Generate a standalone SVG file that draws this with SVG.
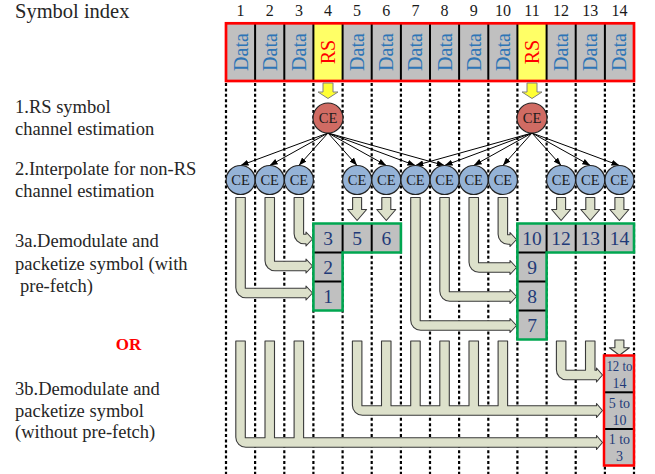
<svg xmlns="http://www.w3.org/2000/svg" xmlns:xlink="http://www.w3.org/1999/xlink" width="655" height="474" viewBox="0 0 655 474">
<style>
text{font-family:"Liberation Serif","Times New Roman",serif}
.lbl{font-size:18.5px;fill:#262626}
.idx{font-size:16px;fill:#1a1a1a;text-anchor:middle}
.data{font-size:20px;fill:#2E75B6;text-anchor:middle}
.rs{font-size:20px;fill:#ff0000;text-anchor:middle}
.cell{fill:#c0c0c0}
.rscell{fill:#ffff66}
.div{stroke:#000;stroke-width:2}
.grid{stroke:#000;stroke-width:2.2;stroke-dasharray:3 2.4}
.ceR{fill:#d06b63;stroke:#222;stroke-width:1.2}
.ceB{fill:#95b3d7;stroke:#222;stroke-width:1.2}
.cet{font-size:14.5px;fill:#1a1a1a;text-anchor:middle}
.pipe{fill:#dde1cb;stroke:#3a3a3a;stroke-width:1.1;stroke-linejoin:round}
.yel{fill:#ffff33;stroke:#808080;stroke-width:1}
.num{font-size:19.5px;fill:#1f3a78;text-anchor:middle}
.rng{font-size:14px;fill:#1f3a78;text-anchor:middle}
.green{fill:none;stroke:#00a650;stroke-width:2.6}
.conn{stroke:#000;stroke-width:1;fill:none;marker-end:url(#ah)}
</style>
<defs>
<marker id="ah" markerUnits="userSpaceOnUse" markerWidth="8" markerHeight="6" refX="8" refY="3" orient="auto">
<path d="M0,0 L8,3 L0,6 Z" fill="#000"/>
</marker>
<path id="dn" d="M-4.5,0 H4.5 V12 H9.5 L0,23 L-9.5,12 H-4.5 Z"/>
<path id="yd" d="M-5,0 H5 V9 H10 L0,15.5 L-10,9 H-5 Z"/>
</defs>

<!-- left labels -->
<text x="15" y="18" style="font-size:20.5px;fill:#262626">Symbol index</text>
<text class="lbl" x="15" y="113">1.RS symbol</text>
<text class="lbl" x="15" y="135">channel estimation</text>
<text class="lbl" x="15" y="175">2.Interpolate for non-RS</text>
<text class="lbl" x="15" y="197">channel estimation</text>
<text class="lbl" x="15" y="247">3a.Demodulate and</text>
<text class="lbl" x="15" y="270">packetize symbol (with</text>
<text class="lbl" x="20" y="292">pre-fetch)</text>
<text x="128.5" y="350" style="font-size:17px;font-weight:bold;fill:#ff0000;text-anchor:middle">OR</text>
<text class="lbl" x="15" y="395">3b.Demodulate and</text>
<text class="lbl" x="15" y="417">packetize symbol</text>
<text class="lbl" x="15" y="438">(without pre-fetch)</text>

<!-- symbol index numbers -->
<g id="indices">
<text class="idx" x="240.6" y="16">1</text>
<text class="idx" x="269.7" y="16">2</text>
<text class="idx" x="298.9" y="16">3</text>
<text class="idx" x="328" y="16">4</text>
<text class="idx" x="357.1" y="16">5</text>
<text class="idx" x="386.3" y="16">6</text>
<text class="idx" x="415.4" y="16">7</text>
<text class="idx" x="444.6" y="16">8</text>
<text class="idx" x="473.7" y="16">9</text>
<text class="idx" x="502.9" y="16">10</text>
<text class="idx" x="532" y="16">11</text>
<text class="idx" x="561.1" y="16">12</text>
<text class="idx" x="590.3" y="16">13</text>
<text class="idx" x="619.4" y="16">14</text>
</g>

<!-- dashed grid -->
<g id="grid">
<line class="grid" x1="226" y1="83" x2="226" y2="474"/>
<line class="grid" x1="255.1" y1="83" x2="255.1" y2="474"/>
<line class="grid" x1="284.3" y1="83" x2="284.3" y2="474"/>
<line class="grid" x1="313.4" y1="83" x2="313.4" y2="474"/>
<line class="grid" x1="342.6" y1="83" x2="342.6" y2="474"/>
<line class="grid" x1="371.7" y1="83" x2="371.7" y2="474"/>
<line class="grid" x1="400.9" y1="83" x2="400.9" y2="474"/>
<line class="grid" x1="430" y1="83" x2="430" y2="474"/>
<line class="grid" x1="459.1" y1="83" x2="459.1" y2="474"/>
<line class="grid" x1="488.3" y1="83" x2="488.3" y2="474"/>
<line class="grid" x1="517.4" y1="83" x2="517.4" y2="474"/>
<line class="grid" x1="546.6" y1="83" x2="546.6" y2="474"/>
<line class="grid" x1="575.7" y1="83" x2="575.7" y2="474"/>
<line class="grid" x1="604.9" y1="83" x2="604.9" y2="474"/>
<line class="grid" x1="634" y1="83" x2="634" y2="474"/>
</g>

<!-- symbol row -->
<g id="symbols">
<rect class="cell" x="226" y="23.3" width="408" height="57.7"/>
<rect class="rscell" x="313.4" y="23.3" width="29.2" height="57.7"/>
<rect class="rscell" x="517.4" y="23.3" width="29.2" height="57.7"/>
<g class="div">
<line x1="255.1" y1="23" x2="255.1" y2="81"/>
<line x1="284.3" y1="23" x2="284.3" y2="81"/>
<line x1="313.4" y1="23" x2="313.4" y2="81"/>
<line x1="342.6" y1="23" x2="342.6" y2="81"/>
<line x1="371.7" y1="23" x2="371.7" y2="81"/>
<line x1="400.9" y1="23" x2="400.9" y2="81"/>
<line x1="430" y1="23" x2="430" y2="81"/>
<line x1="459.1" y1="23" x2="459.1" y2="81"/>
<line x1="488.3" y1="23" x2="488.3" y2="81"/>
<line x1="517.4" y1="23" x2="517.4" y2="81"/>
<line x1="546.6" y1="23" x2="546.6" y2="81"/>
<line x1="575.7" y1="23" x2="575.7" y2="81"/>
<line x1="604.9" y1="23" x2="604.9" y2="81"/>
</g>
<rect x="226" y="23.3" width="408" height="57.7" fill="none" stroke="#ff0000" stroke-width="2.7"/>
<text class="data" transform="translate(247.6,52) rotate(-90)">Data</text>
<text class="data" transform="translate(276.7,52) rotate(-90)">Data</text>
<text class="data" transform="translate(305.9,52) rotate(-90)">Data</text>
<text class="rs" transform="translate(335,52) rotate(-90)">RS</text>
<text class="data" transform="translate(364.1,52) rotate(-90)">Data</text>
<text class="data" transform="translate(393.3,52) rotate(-90)">Data</text>
<text class="data" transform="translate(422.4,52) rotate(-90)">Data</text>
<text class="data" transform="translate(451.6,52) rotate(-90)">Data</text>
<text class="data" transform="translate(480.7,52) rotate(-90)">Data</text>
<text class="data" transform="translate(509.9,52) rotate(-90)">Data</text>
<text class="rs" transform="translate(539,52) rotate(-90)">RS</text>
<text class="data" transform="translate(568.1,52) rotate(-90)">Data</text>
<text class="data" transform="translate(597.3,52) rotate(-90)">Data</text>
<text class="data" transform="translate(626.4,52) rotate(-90)">Data</text>
</g>

<!-- yellow arrows -->
<use href="#yd" class="yel" x="328" y="83"/>
<use href="#yd" class="yel" x="532" y="83"/>

<!-- pipes 3a -->
<g id="pipes3a" class="pipe">
<path d="M235.8,197.5 H245.3 V288.2 H306 V286 L312.5,293 L306,300 V297.8 H245.8 A10,10 0 0 1 235.8,287.8 Z"/>
<path d="M265,197.5 H274.5 V261.2 H306 V259 L312.5,266 L306,273 V270.8 H275 A10,10 0 0 1 265,260.8 Z"/>
<path d="M294.1,197.5 H303.6 V234.2 H306 V232 L312.5,239 L306,246 V243.8 H304.1 A10,10 0 0 1 294.1,233.8 Z"/>
<path d="M498.1,197.5 H507.6 V234.8 H510 V232.5 L516.5,239.5 L510,246.5 V244.2 H508.1 A10,10 0 0 1 498.1,234.2 Z"/>
<path d="M469,197.5 H478.5 V262.8 H510 V260.5 L516.5,267.5 L510,274.5 V272.2 H479 A10,10 0 0 1 469,262.2 Z"/>
<path d="M439.8,197.5 H449.3 V291.8 H510 V289.5 L516.5,296.5 L510,303.5 V301.2 H449.8 A10,10 0 0 1 439.8,291.2 Z"/>
<path d="M410.7,197.5 H420.2 V320.8 H510 V318.5 L516.5,325.5 L510,332.5 V330.2 H420.7 A10,10 0 0 1 410.7,320.2 Z"/>
<use href="#dn" x="357.1" y="197.5"/>
<use href="#dn" x="386.3" y="197.5"/>
<use href="#dn" x="561.1" y="197.5"/>
<use href="#dn" x="590.3" y="197.5"/>
<use href="#dn" x="619.4" y="197.5"/>
</g>

<!-- pipes 3b -->
<g id="pipes3b" class="pipe">
<path d="M235.8,341 H245.3 V437.7 H265 V341 H274.5 V437.7 H294.1 V341 H303.6 V437.7 H596.5 V435.5 L602.5,442.5 L596.5,449.5 V447.3 H245.8 A10,10 0 0 1 235.8,437.3 Z"/>
<path d="M352.4,341 H361.9 V405.7 H381.5 V341 H391 V405.7 H410.7 V341 H420.2 V405.7 H439.8 V341 H449.3 V405.7 H469 V341 H478.5 V405.7 H498.1 V341 H507.6 V405.7 H596.5 V403.5 L602.5,410.5 L596.5,417.5 V415.3 H362.4 A10,10 0 0 1 352.4,405.3 Z"/>
<path d="M556.4,341 H565.9 V370.2 H585.5 V341 H595 V370.2 H596.5 V368 L602.5,375 L596.5,382 V379.8 H566.4 A10,10 0 0 1 556.4,369.8 Z"/>
<path d="M614.9,340 H623.9 V347.8 H629.4 L619.4,355.3 L609.4,347.8 H614.9 Z"/>
</g>

<!-- table 3a left -->
<g id="tableA">
<rect class="cell" x="313.4" y="223.5" width="87.5" height="29"/>
<rect class="cell" x="313.4" y="252.5" width="29.2" height="58"/>
<g class="div">
<line x1="342.6" y1="223.5" x2="342.6" y2="252.5"/>
<line x1="371.7" y1="223.5" x2="371.7" y2="252.5"/>
<line x1="313.4" y1="252.5" x2="342.6" y2="252.5"/>
<line x1="313.4" y1="281.5" x2="342.6" y2="281.5"/>
</g>
<path class="green" d="M313.4,223.5 H400.9 V252.5 H342.6 V310.5 H313.4 Z"/>
<text class="num" x="328" y="244.5">3</text>
<text class="num" x="357.1" y="244.5">5</text>
<text class="num" x="386.3" y="244.5">6</text>
<text class="num" x="328" y="273.5">2</text>
<text class="num" x="328" y="302.5">1</text>
</g>

<!-- table 3a right -->
<g id="tableB">
<rect class="cell" x="517.4" y="223.5" width="116.6" height="29"/>
<rect class="cell" x="517.4" y="252.5" width="29.2" height="87"/>
<g class="div">
<line x1="546.6" y1="223.5" x2="546.6" y2="252.5"/>
<line x1="575.7" y1="223.5" x2="575.7" y2="252.5"/>
<line x1="604.9" y1="223.5" x2="604.9" y2="252.5"/>
<line x1="517.4" y1="252.5" x2="546.6" y2="252.5"/>
<line x1="517.4" y1="281.5" x2="546.6" y2="281.5"/>
<line x1="517.4" y1="310.5" x2="546.6" y2="310.5"/>
</g>
<path class="green" d="M517.4,223.5 H634 V252.5 H546.6 V339.5 H517.4 Z"/>
<text class="num" x="532" y="244.5">10</text>
<text class="num" x="561.1" y="244.5">12</text>
<text class="num" x="590.3" y="244.5">13</text>
<text class="num" x="619.4" y="244.5">14</text>
<text class="num" x="532" y="273.5">9</text>
<text class="num" x="532" y="302.5">8</text>
<text class="num" x="532" y="331.5">7</text>
</g>

<!-- table 3b -->
<g id="tableC">
<rect class="cell" x="604" y="355.5" width="30" height="110"/>
<g class="div">
<line x1="604" y1="392.3" x2="634" y2="392.3"/>
<line x1="604" y1="429" x2="634" y2="429"/>
</g>
<rect x="604" y="355.5" width="30" height="110" fill="none" stroke="#ff0000" stroke-width="2.5"/>
<text class="rng" x="619.4" y="371" textLength="26" lengthAdjust="spacingAndGlyphs">12 to</text>
<text class="rng" x="619.4" y="387.5">14</text>
<text class="rng" x="619.4" y="408">5 to</text>
<text class="rng" x="619.4" y="424.5">10</text>
<text class="rng" x="619.4" y="444">1 to</text>
<text class="rng" x="619.4" y="461">3</text>
</g>

<!-- connectors -->
<g id="connectors">
<line class="conn" x1="328" y1="133" x2="240.6" y2="165.5"/>
<line class="conn" x1="328" y1="133" x2="269.7" y2="165.5"/>
<line class="conn" x1="328" y1="133" x2="298.9" y2="165.5"/>
<line class="conn" x1="328" y1="133" x2="357.1" y2="165.5"/>
<line class="conn" x1="328" y1="133" x2="386.3" y2="165.5"/>
<line class="conn" x1="328" y1="133" x2="415.4" y2="165.5"/>
<line class="conn" x1="328" y1="133" x2="444.6" y2="165.5"/>
<line class="conn" x1="532" y1="133" x2="415.4" y2="165.5"/>
<line class="conn" x1="532" y1="133" x2="444.6" y2="165.5"/>
<line class="conn" x1="532" y1="133" x2="473.7" y2="165.5"/>
<line class="conn" x1="532" y1="133" x2="502.9" y2="165.5"/>
<line class="conn" x1="532" y1="133" x2="561.1" y2="165.5"/>
<line class="conn" x1="532" y1="133" x2="590.3" y2="165.5"/>
<line class="conn" x1="532" y1="133" x2="619.4" y2="165.5"/>
</g>

<!-- CE nodes -->
<g id="ce-rs4"><circle class="ceR" cx="328" cy="118" r="15"/><text class="cet" x="328" y="123">CE</text></g>
<g id="ce-rs11"><circle class="ceR" cx="532" cy="118" r="15"/><text class="cet" x="532" y="123">CE</text></g>
<g id="ce1"><circle class="ceB" cx="240.6" cy="180" r="14.5"/><text class="cet" x="240.6" y="185">CE</text></g>
<g id="ce2"><circle class="ceB" cx="269.7" cy="180" r="14.5"/><text class="cet" x="269.7" y="185">CE</text></g>
<g id="ce3"><circle class="ceB" cx="298.9" cy="180" r="14.5"/><text class="cet" x="298.9" y="185">CE</text></g>
<g id="ce5"><circle class="ceB" cx="357.1" cy="180" r="14.5"/><text class="cet" x="357.1" y="185">CE</text></g>
<g id="ce6"><circle class="ceB" cx="386.3" cy="180" r="14.5"/><text class="cet" x="386.3" y="185">CE</text></g>
<g id="ce7"><circle class="ceB" cx="415.4" cy="180" r="14.5"/><text class="cet" x="415.4" y="185">CE</text></g>
<g id="ce8"><circle class="ceB" cx="444.6" cy="180" r="14.5"/><text class="cet" x="444.6" y="185">CE</text></g>
<g id="ce9"><circle class="ceB" cx="473.7" cy="180" r="14.5"/><text class="cet" x="473.7" y="185">CE</text></g>
<g id="ce10"><circle class="ceB" cx="502.9" cy="180" r="14.5"/><text class="cet" x="502.9" y="185">CE</text></g>
<g id="ce12"><circle class="ceB" cx="561.1" cy="180" r="14.5"/><text class="cet" x="561.1" y="185">CE</text></g>
<g id="ce13"><circle class="ceB" cx="590.3" cy="180" r="14.5"/><text class="cet" x="590.3" y="185">CE</text></g>
<g id="ce14"><circle class="ceB" cx="619.4" cy="180" r="14.5"/><text class="cet" x="619.4" y="185">CE</text></g>
</svg>
